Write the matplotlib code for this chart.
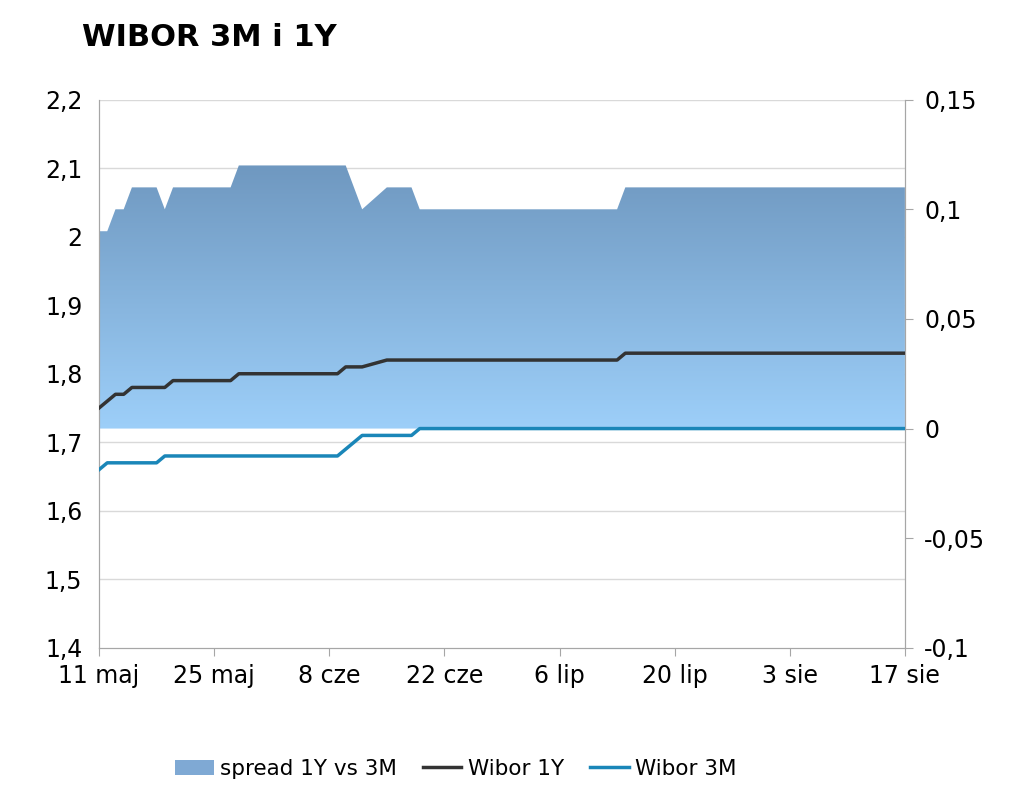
import numpy as np
import pandas as pd
import matplotlib
matplotlib.use("Agg")
import matplotlib.pyplot as plt
import matplotlib.dates as mdates
from matplotlib.patches import Patch
from matplotlib.lines import Line2D

# business days 11 May - 17 Aug 2015
dates = pd.bdate_range("2015-05-11", "2015-08-17")

wibor_1y = ([1.75, 1.76, 1.77, 1.77, 1.78,
             1.78, 1.78, 1.79, 1.79, 1.79,
             1.79, 1.79, 1.79, 1.80, 1.80,
             1.80, 1.80, 1.80, 1.80, 1.80,
             1.80, 1.80, 1.81, 1.81, 1.81,
             1.82, 1.82, 1.82, 1.82, 1.82]
            + [1.82] * 15
            + [1.82, 1.83, 1.83, 1.83, 1.83]
            + [1.83] * 21)
wibor_3m = ([1.66, 1.67, 1.67, 1.67, 1.67,
             1.67, 1.68, 1.68, 1.68, 1.68,
             1.68, 1.68, 1.68, 1.68, 1.68,
             1.68, 1.68, 1.68, 1.68, 1.68,
             1.68, 1.68, 1.69, 1.70, 1.71,
             1.71, 1.71, 1.71, 1.71, 1.72]
            + [1.72] * 41)
spread = np.round(np.array(wibor_1y) - np.array(wibor_3m), 2)

months_pl = {5: "maj", 6: "cze", 7: "lip", 8: "sie"}
tick_dates = pd.date_range("2015-05-11", "2015-08-17", freq="14D")
left_ticks = np.arange(1.4, 2.21, 0.1)

fig = plt.figure(figsize=(10.24, 7.91), dpi=100)
ax = fig.add_axes([0.0967, 0.181, 0.787, 0.693])
ax2 = ax.twinx()
ax.set_zorder(2)
ax.patch.set_visible(False)
ax2.set_zorder(1)

x = mdates.date2num(dates)

# grid lines (left axis values) drawn behind the spread area
for v in left_ticks[1:]:
    ax2.axhline(-0.1 + (v - 1.4) * 0.3125, color="#d9d9d9", lw=1, zorder=0)

# spread area with vertical gradient
poly = ax2.fill_between(x, 0, spread, color="none", lw=0)
grad = np.linspace(0, 1, 256).reshape(-1, 1)
cmap = matplotlib.colors.LinearSegmentedColormap.from_list("g", ["#9dcff9", "#6f98c0"])
img = ax2.imshow(grad, cmap=cmap, aspect="auto", origin="lower",
                 extent=[x[0], x[-1], 0, 0.12], zorder=1)
img.set_clip_path(poly.get_paths()[0], transform=ax2.transData)

ax.plot(x, wibor_1y, color="#333333", lw=2.5, zorder=3)
ax.plot(x, wibor_3m, color="#1a86b8", lw=2.5, zorder=3)

ax.set_xlim(x[0], x[-1])
ax.set_ylim(1.4, 2.2)
ax2.set_ylim(-0.1, 0.15)
ax.set_yticks(left_ticks)
ax.set_yticklabels([f"{v:.1f}".replace(".", ",").replace(",0", "") for v in left_ticks])
ax2.set_yticks([-0.1, -0.05, 0, 0.05, 0.1, 0.15])
ax2.set_yticklabels(["-0,1", "-0,05", "0", "0,05", "0,1", "0,15"])
ax.set_xticks(mdates.date2num(tick_dates))
ax.set_xticklabels([f"{d.day} {months_pl[d.month]}" for d in tick_dates])

for a in (ax, ax2):
    a.spines["top"].set_visible(False)
    for s in ("left", "right", "bottom"):
        a.spines[s].set_color("#a6a6a6")
    a.tick_params(labelsize=17, colors="#a6a6a6", labelcolor="black", length=6)
ax.tick_params(axis="y", length=0, pad=12)
ax2.tick_params(axis="y", length=6, pad=8)
ax.tick_params(axis="x", pad=6)

fig.text(0.08, 0.952, "WIBOR 3M i 1Y", fontsize=22, fontweight="bold", va="center")

handles = [Patch(facecolor="#7fa9d4", edgecolor="none"),
           Line2D([], [], color="#333333", lw=2.5),
           Line2D([], [], color="#1a86b8", lw=2.5)]
fig.legend(handles, ["spread 1Y vs 3M", "Wibor 1Y", "Wibor 3M"], loc="center",
           bbox_to_anchor=(0.445, 0.028), ncol=3, frameon=False, fontsize=15.5,
           handlelength=1.8, columnspacing=1.2, handletextpad=0.3)

fig.savefig("out.png", dpi=100)
